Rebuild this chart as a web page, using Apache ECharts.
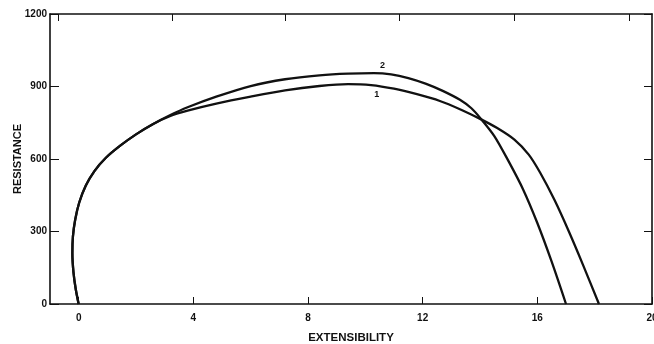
<!DOCTYPE html>
<html>
<head>
<meta charset="utf-8">
<script src="https://cdn.jsdelivr.net/npm/echarts@6/dist/echarts.min.js"></script>
<style>
  html, body { margin: 0; padding: 0; background: #fff; }
  #chart { width: 654px; height: 344px; }
</style>
</head>
<body>
<div id="chart"></div>
<script>
// Resistance vs. extensibility, two samples sharing the same early rise
var sharedRise = [
  [0, 0], [-0.1, 60], [-0.18, 130], [-0.22, 210], [-0.2, 280], [-0.12, 350],
  [0.02, 420], [0.25, 490], [0.55, 550], [0.95, 605], [1.45, 655], [2.0, 702],
  [2.6, 745]
];
var curve1Tail = [
  [3.2, 778], [3.8, 800], [4.8, 829], [6.0, 858], [7.2, 884], [8.4, 902],
  [9.4, 910], [10.2, 906], [11.0, 891], [11.8, 868], [12.6, 840], [13.3, 806],
  [14.02, 765], [14.6, 728], [15.2, 680], [15.7, 618], [16.1, 543], [16.6, 430],
  [17.1, 300], [17.6, 160], [18.15, 0]
];
var curve2Tail = [
  [3.2, 782], [3.8, 814], [4.8, 858], [6.0, 902], [7.2, 930], [8.4, 946],
  [9.4, 953], [10.3, 955], [10.9, 950], [11.5, 935], [12.1, 912], [12.7, 882],
  [13.3, 845], [13.7, 810], [14.02, 768], [14.5, 695], [15.0, 590], [15.5, 475],
  [16.0, 335], [16.5, 175], [17.0, 0]
];
var curveNames = ['1', '2'];
var curveLabelAt = [[10.4, 868], [10.6, 985]];

var xTickValues = [0, 4, 8, 12, 16, 20];
var xTopTickValues = [-0.72, 3.27, 7.22, 11.2, 15.2, 19.2];
var yTickValues = [0, 300, 600, 900, 1200];

var ink = '#111';
var fontFamily = 'Liberation Sans, Arial, sans-serif';
var tickFont = { color: ink, fontSize: 10, fontWeight: 'bold', fontFamily: fontFamily };

function curveSeries(name, pts, labelPos) {
  return {
    name: name,
    type: 'line',
    xAxisIndex: 0,
    yAxisIndex: 0,
    data: pts,
    smooth: 0.3,
    symbol: 'none',
    lineStyle: { color: ink, width: 2.3 },
    markPoint: {
      symbol: 'circle',
      symbolSize: 0,
      silent: true,
      label: { show: true, formatter: name, color: ink, fontSize: 9, fontWeight: 'bold',
               fontFamily: fontFamily },
      data: [{ coord: labelPos }]
    }
  };
}

var chart = echarts.init(document.getElementById('chart'), null, { renderer: 'canvas' });
chart.setOption({
  animation: false,
  backgroundColor: '#fff',
  grid: { left: 50, right: 2, top: 14, bottom: 40, containLabel: false, outerBoundsMode: 'none' },
  xAxis: [
    {
      type: 'value', position: 'bottom', min: -1, max: 20,
      name: 'EXTENSIBILITY', nameLocation: 'middle', nameGap: 28, nameMoveOverlap: false,
      nameTextStyle: { color: ink, fontSize: 11.5, fontWeight: 'bold', fontFamily: fontFamily },
      axisLine: { show: true, onZero: false, lineStyle: { color: ink, width: 1.6 } },
      axisTick: { show: true, inside: true, length: 7, customValues: xTickValues,
                  lineStyle: { color: ink, width: 1 } },
      axisLabel: { show: true, customValues: xTickValues, margin: 9, hideOverlap: false, ...tickFont },
      splitLine: { show: false }
    },
    {
      type: 'value', position: 'top', min: -1, max: 20,
      axisLine: { show: true, onZero: false, lineStyle: { color: ink, width: 1.6 } },
      axisTick: { show: true, inside: true, length: 7, customValues: xTopTickValues,
                  lineStyle: { color: ink, width: 1 } },
      axisLabel: { show: false },
      splitLine: { show: false }
    }
  ],
  yAxis: [
    {
      type: 'value', position: 'left', min: 0, max: 1200, interval: 300,
      name: 'RESISTANCE', nameLocation: 'middle', nameGap: 27, nameMoveOverlap: false,
      nameTextStyle: { color: ink, fontSize: 11, fontWeight: 'bold', fontFamily: fontFamily },
      axisLine: { show: true, onZero: false, lineStyle: { color: ink, width: 1.6 } },
      axisTick: { show: true, inside: true, length: 9, customValues: yTickValues,
                  lineStyle: { color: ink, width: 1 } },
      axisLabel: { show: true, customValues: yTickValues, margin: 3,
                   formatter: function (v) { return String(v); }, ...tickFont },
      splitLine: { show: false }
    },
    {
      type: 'value', position: 'right', min: 0, max: 1200, interval: 300,
      axisLine: { show: true, onZero: false, lineStyle: { color: ink, width: 1.6 } },
      axisTick: { show: true, inside: true, length: 8, customValues: yTickValues,
                  lineStyle: { color: ink, width: 1 } },
      axisLabel: { show: false },
      splitLine: { show: false }
    }
  ],
  series: [
    curveSeries(curveNames[0], sharedRise.concat(curve1Tail), curveLabelAt[0]),
    curveSeries(curveNames[1], sharedRise.concat(curve2Tail), curveLabelAt[1])
  ]
});
</script>
</body>
</html>
